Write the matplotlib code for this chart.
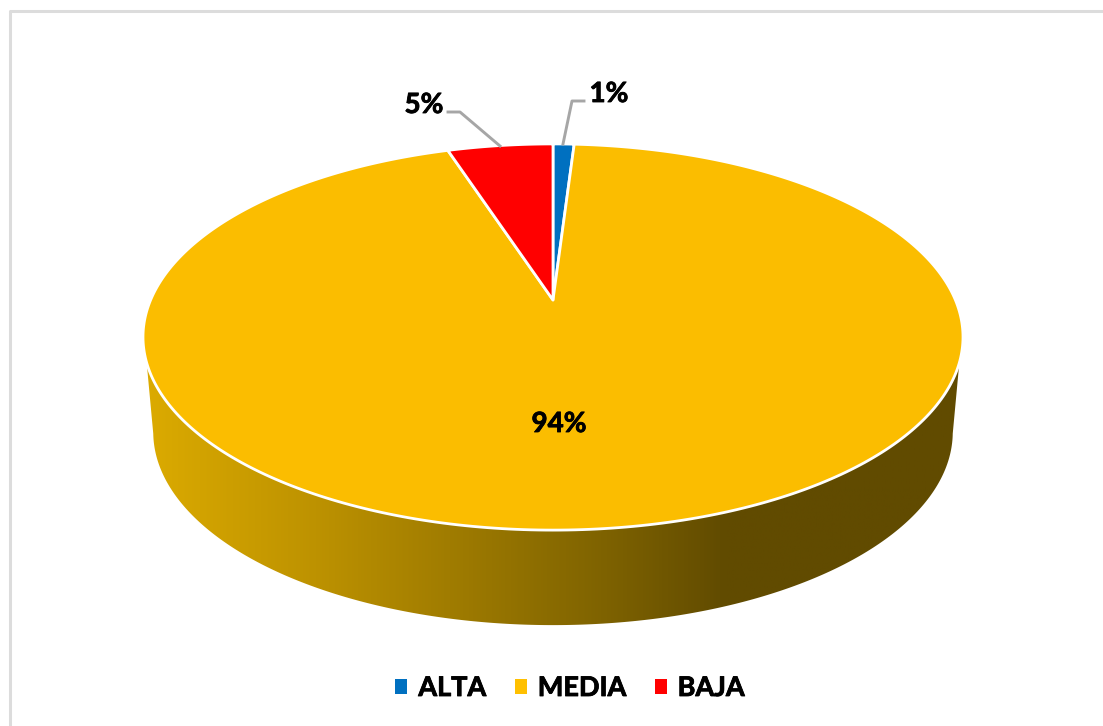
import numpy as np
import matplotlib.pyplot as plt
import matplotlib.patheffects as pe
from matplotlib.colors import LinearSegmentedColormap
from matplotlib.patches import Patch

labels = ["ALTA", "MEDIA", "BAJA"]
values = [1, 94, 5]
pct_text = ["1%", "94%", "5%"]
colors = ["#0070C0", "#FBBD00", "#FF0000"]
legend_colors = ["#0070C0", "#FFC000", "#FF0000"]

plt.rcParams["font.family"] = ["Lato", "DejaVu Sans"]

fig = plt.figure(figsize=(11.03, 7.26), dpi=100)
ax = fig.add_axes([0, 0, 1, 1])
ax.set_xlim(0, 1103)
ax.set_ylim(726, 0)
ax.axis("off")

# pie seen in perspective, centre sits above the middle of the ellipse
cx, cy = 553, 300
k = 0.1917
bx, by = 402.4, 186.0


def project(theta, scale=1.0, drop=0.0):
    # theta in degrees clockwise from the top of the disc
    t = np.radians(theta)
    u, v = np.sin(t), np.cos(t)
    w = 1 + k * v
    return cx + scale * bx * u / w, cy - by * v / w + drop


# side of the disc, gradient clipped to the outline
th = np.linspace(0, 360, 721)
x_top, y_top = project(th)
low = y_top >= 362
order = np.argsort(x_top[low])
x_b, y_b = project(th, 0.975, 95)
low_b = y_b >= 432
order_b = np.argsort(x_b[low_b])[::-1]
side_x = np.r_[x_top[low][order], x_b[low_b][order_b]]
side_y = np.r_[y_top[low][order], y_b[low_b][order_b]]
side = ax.fill(side_x, side_y, color="none", lw=0)[0]

side_cmap = LinearSegmentedColormap.from_list(
    "side",
    [(0.0, "#DCAB00"), (0.21, "#BD9200"), (0.56, "#7F6300"), (0.71, "#614B00"), (1.0, "#614B00")],
)
grad = np.linspace(0, 1, 512).reshape(1, -1)
im = ax.imshow(grad, cmap=side_cmap, extent=(143, 963, 640, 340), aspect="auto", zorder=1)
im.set_clip_path(side)
ax.set_xlim(0, 1103)
ax.set_ylim(726, 0)

# top of the disc
edges = np.r_[0, np.cumsum(values)] / np.sum(values) * 360
for i in range(len(values)):
    a = np.linspace(edges[i], edges[i + 1], 400)
    xs, ys = project(a)
    ax.fill(np.r_[cx, xs], np.r_[cy, ys], facecolor=colors[i], edgecolor="white",
            lw=2.0, joinstyle="round", zorder=2)

# leader lines
ax.plot([584, 572, 563], [101, 101, 144], color="#A6A6A6", lw=2.1, zorder=3)
ax.plot([448, 460, 500], [112, 112, 146], color="#A6A6A6", lw=2.1, zorder=3)

# Lato bold is lighter than the reference face, thicken it a little
heavy = [pe.withStroke(linewidth=0.6, foreground="black")]
ax.text(609, 94, pct_text[0], ha="center", va="center", fontsize=20, fontweight="bold",
        color="black", path_effects=heavy)
ax.text(559, 424, pct_text[1], ha="center", va="center", fontsize=20, fontweight="bold",
        color="black", path_effects=heavy)
ax.text(424, 105, pct_text[2], ha="center", va="center", fontsize=20, fontweight="bold",
        color="black", path_effects=heavy)

handles = [Patch(facecolor=c, edgecolor="none", label=l) for c, l in zip(legend_colors, labels)]
leg = ax.legend(handles=handles, loc="center", bbox_to_anchor=(570, 688), bbox_transform=ax.transData,
                ncol=3, frameon=False, prop={"family": "Lato", "weight": "bold", "size": 19.5},
                handlelength=0.45, handleheight=0.45, handletextpad=0.4, columnspacing=1.05)
for t in leg.get_texts():
    t.set_path_effects(heavy)

# thin grey frame of the chart area
ax.plot([9.5, 9.5, 1103], [726, 11, 11], color="#DCDCDC", lw=2.2, zorder=0)

fig.savefig("out.png", dpi=100)
